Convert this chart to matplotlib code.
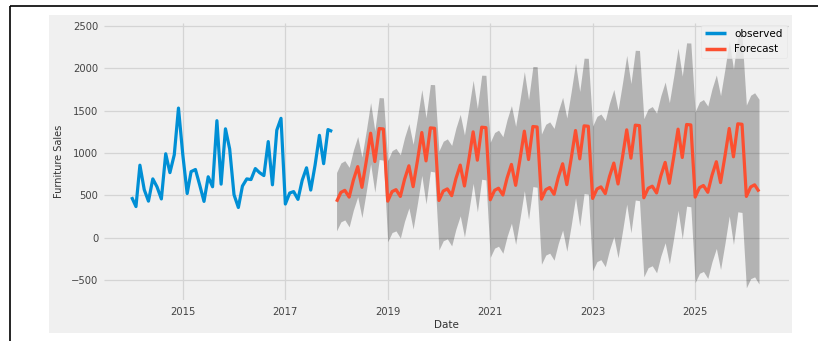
import numpy as np
import pandas as pd
import matplotlib
matplotlib.use('Agg')
import matplotlib.pyplot as plt
from matplotlib.patches import Rectangle
from matplotlib.lines import Line2D

# Monthly average furniture sales, Jan 2014 - Dec 2017
observed = [480, 368, 857, 567, 432, 695, 601, 458, 992, 769, 980, 1532,
            978, 522, 781, 806, 625, 429, 720, 602, 1383, 633, 1287, 1049,
            508, 357, 610, 695, 687, 817, 769, 734, 1136, 625, 1271, 1411,
            398, 528, 545, 453, 678, 826, 563, 858, 1210, 875, 1278, 1256]

# 100-step forecast, Jan 2018 - Apr 2026
forecast = [425, 535, 560, 480, 680, 840, 595, 905, 1235, 900, 1290, 1285,
            432, 545, 568, 488, 690, 850, 603, 912, 1243, 908, 1298, 1293,
            440, 552, 577, 497, 698, 858, 611, 920, 1251, 916, 1306, 1301,
            448, 560, 585, 505, 706, 866, 619, 928, 1259, 924, 1314, 1309,
            456, 568, 593, 513, 714, 874, 627, 936, 1267, 932, 1322, 1317,
            464, 576, 601, 521, 722, 882, 635, 944, 1275, 940, 1330, 1325,
            472, 584, 609, 529, 730, 890, 643, 952, 1283, 948, 1338, 1333,
            480, 592, 617, 537, 738, 898, 651, 960, 1291, 956, 1346, 1341,
            488, 600, 625, 545]

# confidence interval bounds
ci_lower = [80, 187, 210, 128, 326, 484, 237, 545, 873, 536, 924, 917,
            -48, 61, 80, -4, 195, 352, 102, 408, 736, 398, 785, 777,
            -145, -36, -14, -97, 101, 258, 8, 314, 642, 304, 691, 683,
            -232, -123, -101, -184, 14, 171, -79, 227, 555, 217, 604, 596,
            -314, -205, -183, -266, -68, 89, -161, 145, 473, 135, 522, 514,
            -391, -282, -260, -343, -145, 12, -238, 68, 396, 58, 445, 437,
            -463, -354, -332, -415, -217, -60, -310, -4, 324, -14, 373, 365,
            -530, -421, -399, -482, -284, -127, -377, -71, 257, -81, 306, 298,
            -592, -484, -463, -547]
ci_upper = [770, 883, 910, 832, 1034, 1196, 953, 1265, 1597, 1264, 1656, 1653,
            912, 1029, 1056, 980, 1185, 1348, 1104, 1416, 1750, 1418, 1811, 1809,
            1025, 1140, 1168, 1091, 1295, 1458, 1214, 1526, 1860, 1528, 1921, 1919,
            1128, 1243, 1271, 1194, 1398, 1561, 1317, 1629, 1963, 1631, 2024, 2022,
            1226, 1341, 1369, 1292, 1496, 1659, 1415, 1727, 2061, 1729, 2122, 2120,
            1319, 1434, 1462, 1385, 1589, 1752, 1508, 1820, 2154, 1822, 2215, 2213,
            1407, 1522, 1550, 1473, 1677, 1840, 1596, 1908, 2242, 1910, 2303, 2301,
            1490, 1605, 1633, 1556, 1760, 1923, 1679, 1991, 2325, 1993, 2386, 2384,
            1568, 1684, 1713, 1637]

tick_years = [2015, 2017, 2019, 2021, 2023, 2025]
y_ticks = [-500, 0, 500, 1000, 1500, 2000, 2500]

obs_dates = pd.date_range('2014-01-01', periods=len(observed), freq='MS')
fc_dates = pd.date_range('2018-01-01', periods=len(forecast), freq='MS')

plt.style.use('fivethirtyeight')
plt.rcParams['font.family'] = ['DejaVu Sans']

W, H = 818, 341
fig = plt.figure(figsize=(W / 100, H / 100), dpi=100, facecolor='white')

# grey figure panel behind the axes, and the black frame lines
fig.patches.append(Rectangle((49 / W, 1 - 333 / H), (792 - 49) / W, (333 - 15) / H,
                             transform=fig.transFigure, facecolor='#f0f0f0',
                             edgecolor='none', zorder=-5))
fig.add_artist(Line2D([10 / W, 1], [1 - 6 / H, 1 - 6 / H], color='black', lw=1.2))
fig.add_artist(Line2D([10 / W, 10 / W], [0, 1 - 6 / H], color='black', lw=1.2))

ax = fig.add_axes([104 / W, 1 - 300.3 / H, (789 - 104) / W, (300.3 - 22.8) / H])
ax.set_facecolor('#f0f0f0')

ax.plot(obs_dates, observed, color='#008fd5', lw=2.3, label='observed')
ax.plot(fc_dates, forecast, color='#fc4f30', lw=2.3, label='Forecast')
ax.fill_between(fc_dates, ci_lower, ci_upper, color='k', alpha=.25, lw=0)

ax.set_xlim(pd.Timestamp('2013-06-18'), pd.Timestamp('2026-11-01'))
ax.set_ylim(-740, 2540)
ax.set_xticks([pd.Timestamp(f'{y}-01-01') for y in tick_years])
ax.set_xticklabels([str(y) for y in tick_years])
ax.set_yticks(y_ticks)
ax.set_yticklabels(['\u2212500' if v < 0 else str(v) for v in y_ticks])

ax.grid(True, color='#d4d4d4', lw=0.9)
ax.tick_params(axis='both', length=0, labelsize=7.2, labelcolor='#444444')
ax.tick_params(axis='y', pad=4)
ax.tick_params(axis='x', pad=5)
for s in ax.spines.values():
    s.set_visible(False)

ax.set_xlabel('Date', fontsize=7.5, color='#333333', labelpad=2)
ax.set_ylabel('Furniture Sales', fontsize=7, color='#333333', labelpad=5)

leg = ax.legend(loc='upper right', fontsize=7.5, borderaxespad=0.2,
                handlelength=2.0, frameon=True, framealpha=0.8)
leg.get_frame().set_facecolor('#f0f0f0')
leg.get_frame().set_edgecolor('#e4e4e4')
for line in leg.get_lines():
    line.set_linewidth(2.5)

fig.savefig('out.png', dpi=100, facecolor='white')
